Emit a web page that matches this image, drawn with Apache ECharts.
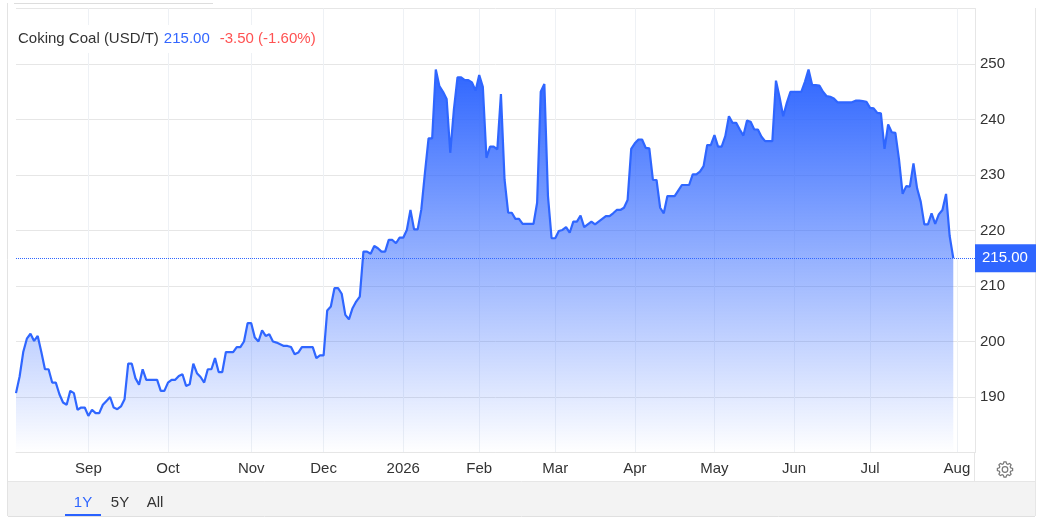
<!DOCTYPE html>
<html>
<head>
<meta charset="utf-8">
<style>html,body{margin:0;padding:0;background:#fff}#c{width:1042px;height:530px}</style>
<script src="https://cdn.jsdelivr.net/npm/echarts@6/dist/echarts.min.js"></script>
</head>
<body>
<div id="c"></div>
<script>
const seriesName = 'Coking Coal (USD/T)';
const lastValue = 215.00;
const changeText = '-3.50 (-1.60%)';
const values = [
190.7,193.7,198.1,200.5,201.4,200.1,201,198.1,195,195,
192.6,192.6,190.5,189,188.6,191.1,190.7,187.7,188.1,188.1,
186.6,187.7,187.1,187.1,188.6,189.3,190,188.1,187.8,188.3,
189.6,196,196,193.4,192.2,195,193.1,193.1,193.1,193.1,
191.1,191.1,192.6,193.1,193.1,193.8,194.1,192,192.3,196,
194.3,193.6,192.6,195,195,197,194.5,194.5,198.1,198.1,
198.1,199,199,200,203.3,203.3,200.7,200,202,201,
201.3,200,199.8,199.5,199.2,199.2,199,197.7,198,199,
199,199,199,197,197.5,197.5,205.6,206.3,209.6,209.6,
208.6,204.8,204,206,207.2,208.1,216.2,216.2,215.8,217.2,
216.8,216.2,216.2,218.3,218.3,217.7,218.7,218.7,220.1,223.7,
220.2,220.2,223.8,230.4,236.6,236.6,249,246,245,243.7,
234,241.8,247.6,247.6,247.1,247.1,246.7,245.2,248,245.9,
233.1,235.1,235.1,234.6,244.6,229.2,223.2,223.2,222.1,222.1,
221.2,221.2,221.2,221.2,225,245,246.4,226.2,218.6,218.6,
219.9,220.1,220.6,219.6,221.6,221.6,222.7,220.6,221.1,221.6,
221.1,221.6,222.1,222.6,222.6,223.1,223.7,223.7,224.1,225.5,
234.7,235.7,236.4,236.4,234.9,234.8,229.1,229.1,224.1,223.1,
226.2,226.2,226.2,227.2,228.2,228.2,228.2,230.1,230.1,230.6,
231.6,235.4,235.4,237.2,235.1,235.1,237,240.6,239.4,239.4,
238.2,237.1,239.8,239.6,238.2,238.2,236.9,236.1,236.1,236.1,
247,244,240.6,243,245,245,245,245,246.8,249,
246.2,246.2,246.1,245,244.2,244.1,243.8,243.1,243.1,243.1,
243.1,243.1,243.4,243.4,243.3,243.2,242.1,242,241.2,241.1,
234.7,239.1,237.7,237.6,232.8,226.6,228,227.9,232.1,227.6,
225.2,221.1,221.1,223.1,221.2,222.9,223.7,226.6,219,215
];
const monthLabels = ['Sep','Oct','Nov','Dec','2026','Feb','Mar','Apr','May','Jun','Jul','Aug'];
const monthStarts = [20,42,65,85,107,128,149,171,193,215,236,260];
const slotCount = 266;
const yTickLabels = [190,200,210,220,230,240,250];
const rangeButtons = ['1Y','5Y','All'];

const categories = [];
for (let i = 0; i < slotCount; i++) {
  const m = monthStarts.indexOf(i);
  categories.push(m >= 0 ? monthLabels[m] : 'd' + i);
}
const isMonth = (idx) => monthStarts.indexOf(idx) >= 0;

const BLUE = '#2f66ff';
const FONT = '"Liberation Sans", Arial, sans-serif';

// gear outline
const gearPts = [];
const teeth = 8, cx = 1005, cy = 469.5;
for (let t = 0; t < teeth; t++) {
  const a = t / teeth * Math.PI * 2;
  const s = Math.PI * 2 / teeth;
  [[-0.36, 5.9], [-0.17, 7.7], [0.17, 7.7], [0.36, 5.9]].forEach(([o, r]) => {
    gearPts.push([cx + r * Math.cos(a + o * s), cy + r * Math.sin(a + o * s)]);
  });
}

const chart = echarts.init(document.getElementById('c'), null, {renderer: 'canvas'});
chart.setOption({
  animation: false,
  textStyle: {fontFamily: FONT},
  title: {
    left: 13, top: 25, padding: [5, 5, 5, 5], backgroundColor: '#fff',
    text: '{a|' + seriesName + '} {b|' + lastValue.toFixed(2) + '}  {c|' + changeText + '}',
    textStyle: {
      fontWeight: 'normal',
      rich: {
        a: {fontSize: 15, fontWeight: 'normal', color: '#333', fontFamily: FONT},
        b: {fontSize: 15, fontWeight: 'normal', color: '#3366ff', fontFamily: FONT},
        c: {fontSize: 15, fontWeight: 'normal', color: '#ff5252', fontFamily: FONT}
      }
    }
  },
  grid: {left: 16, right: 67, top: 8.5, bottom: 77.5, containLabel: false},
  xAxis: {
    type: 'category', boundaryGap: false, data: categories,
    axisLine: {lineStyle: {color: '#e6e6e6'}},
    axisTick: {show: false},
    axisLabel: {
      interval: (idx) => isMonth(idx), margin: 9, fontSize: 15, color: '#333',
      formatter: (v) => v
    },
    splitLine: {show: true, interval: (idx) => isMonth(idx), lineStyle: {color: '#eef1f5'}}
  },
  yAxis: {
    type: 'value', position: 'right', min: 180, max: 260, interval: 10,
    axisLine: {show: true, lineStyle: {color: '#e6e6e6'}},
    axisTick: {show: false},
    axisLabel: {
      margin: 5, fontSize: 15, color: '#333',
      formatter: (v) => yTickLabels.indexOf(v) >= 0 ? String(v) : ''
    },
    splitLine: {show: true, lineStyle: {color: '#e6e6e6'}}
  },
  series: [{
    type: 'line', name: seriesName, data: values, symbol: 'none', smooth: false,
    lineStyle: {color: BLUE, width: 2.2},
    areaStyle: {
      opacity: 1,
      color: {type: 'linear', x: 0, y: 0, x2: 0, y2: 1, colorStops: [
        {offset: 0, color: 'rgba(47,102,255,1)'},
        {offset: 1, color: 'rgba(47,102,255,0)'}
      ]}
    },
    markLine: {
      silent: true, symbol: 'none', animation: false,
      lineStyle: {color: BLUE, type: 'dotted', width: 1},
      label: {
        show: true, position: 'end', distance: 0, formatter: lastValue.toFixed(2),
        color: '#fff', backgroundColor: BLUE, fontSize: 15, fontFamily: FONT,
        padding: [7, 7, 6, 7], width: 47, align: 'left'
      },
      data: [{yAxis: lastValue}]
    }
  }],
  graphic: [
    {type: 'rect', z: -1, shape: {x: 8, y: 481.5, width: 1027, height: 34.5}, style: {fill: '#f3f3f3'}},
    {type: 'line', shape: {x1: 8, y1: 481.5, x2: 1035, y2: 481.5}, style: {stroke: '#e6e6e6', lineWidth: 1}},
    {type: 'line', shape: {x1: 8, y1: 516.5, x2: 1035, y2: 516.5}, style: {stroke: '#e0e0e0', lineWidth: 1}},
    {type: 'line', shape: {x1: 7.5, y1: 3, x2: 7.5, y2: 516}, style: {stroke: '#e3e3e3', lineWidth: 1}},
    {type: 'line', shape: {x1: 1035.5, y1: 8, x2: 1035.5, y2: 516}, style: {stroke: '#e6e6e6', lineWidth: 1}},
    {type: 'line', shape: {x1: 14, y1: 3.5, x2: 213, y2: 3.5}, style: {stroke: '#dddddd', lineWidth: 1}},
    {type: 'line', shape: {x1: 974.5, y1: 452, x2: 974.5, y2: 481}, style: {stroke: '#e6e6e6', lineWidth: 1}},
    {type: 'text', x: 83, y: 503, style: {text: rangeButtons[0], fill: '#2f66ff', font: '15px ' + FONT, textAlign: 'center', textVerticalAlign: 'middle'}},
    {type: 'text', x: 120, y: 503, style: {text: rangeButtons[1], fill: '#333', font: '15px ' + FONT, textAlign: 'center', textVerticalAlign: 'middle'}},
    {type: 'text', x: 155, y: 503, style: {text: rangeButtons[2], fill: '#333', font: '15px ' + FONT, textAlign: 'center', textVerticalAlign: 'middle'}},
    {type: 'rect', shape: {x: 65, y: 514, width: 36, height: 2}, style: {fill: '#2962ff'}},
    {type: 'polygon', shape: {points: gearPts}, style: {fill: 'none', stroke: '#777', lineWidth: 1.2}},
    {type: 'circle', shape: {cx: cx, cy: cy, r: 2.8}, style: {fill: 'none', stroke: '#777', lineWidth: 1.2}}
  ]
});
</script>
</body>
</html>
